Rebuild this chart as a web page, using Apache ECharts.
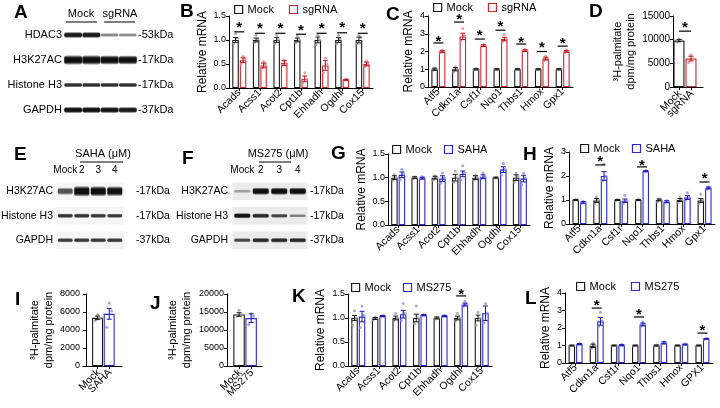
<!DOCTYPE html>
<html><head><meta charset="utf-8">
<script src="https://cdn.jsdelivr.net/npm/echarts@6/dist/echarts.min.js"></script>
<style>html,body{margin:0;padding:0;background:#fff}#c{width:720px;height:408px}</style>
</head><body><div id="c"></div>
<script>
// ================= DATA =================
// Panel A blot
const blotAGroups = ['Mock', 'sgRNA'];
const blotARows = ['HDAC3', 'H3K27AC', 'Histone H3', 'GAPDH'];
const blotAKda = ['-53kDa', '-17kDa', '-17kDa', '-37kDa'];
const blotASignal = [[0.85,0.85,0.35,0.32],[1,1,0.95,0.92],[0.72,0.72,0.72,0.72],[0.9,0.9,0.88,0.85]];
// Panel B
const catsB = ['Acads','Acss1','Acot2','Cpt1b','Ehhadh','Ogdhl','Cox15'];
const mockB = [1.00,1.00,1.00,1.00,1.00,1.00,1.00];
const mockBErr = [0.05,0.04,0.05,0.04,0.06,0.05,0.06];
const mockBDots = [[0.92,1.04,1.13],[0.95,1.02,1.10],[0.93,1.00,1.10],[0.95,1.00,1.08],[0.90,1.00,1.10],[0.92,1.02,1.10],[0.92,1.05,1.10]];
const sgB = [0.58,0.47,0.52,0.19,0.47,0.17,0.50];
const sgBErr = [0.05,0.05,0.05,0.06,0.10,0.01,0.04];
const sgBDots = [[0.50,0.60,0.66],[0.42,0.50,0.55],[0.48,0.52,0.58],[0.12,0.18,0.32],[0.32,0.50,0.62],[0.16,0.17,0.18],[0.45,0.50,0.56]];
const starB = [1.33,1.31,1.31,1.27,1.31,1.33,1.31];
const sigB = [1.17,1.14,1.14,1.12,1.14,1.15,1.14];
// Panel C
const catsC = ['Atf5','Cdkn1a','Csf1r','Nqo1','Thbs1','Hmox','Gpx1'];
const mockC = [1,1,1,1,1,1,1];
const mockCErr = [0.06,0.09,0.03,0.03,0.03,0.03,0.03];
const mockCDots = [[0.93,1.0,1.06],[0.86,1.0,1.12],[0.97,1.0,1.03],[0.98,1.0,1.02],[0.98,1.0,1.02],[0.98,1.0,1.02],[0.97,1.0,1.03]];
const sgC = [2.00,2.85,2.33,2.70,2.05,1.60,2.00];
const sgCErr = [0.05,0.18,0.05,0.10,0.05,0.08,0.05];
const sgCDots = [[1.95,2.0,2.08],[2.6,2.9,3.3],[2.28,2.33,2.4],[2.55,2.7,2.95],[2.0,2.05,2.12],[1.5,1.6,1.75],[1.95,2.0,2.1]];
const starC = [2.76,4.00,3.10,3.60,2.70,2.42,2.65];
const sigC = [2.48,3.66,2.70,3.20,2.42,2.00,2.30];
// Panel D
const catsD = ['Mock','sgRNA'];
const valsD = [9800, 6000];
const errD = [250, 500];
const dotsD = [[9500,9900,10100],[5200,5900,6800]];
const starD = 13300, sigD = 11800;
// Panel E / F blots
const blotELanes = ['Mock','2','3','4'];
const blotERows = ['H3K27AC','Histone H3','GAPDH'];
const blotEKda = ['-17kDa','-17kDa','-37kDa'];
const blotESignal = [[0.55,1,0.95,0.9],[0.7,0.7,0.68,0.66],[0.66,0.68,0.68,0.68]];
const blotFLanes = ['Mock','2','3','4'];
const blotFRows = ['H3K27AC','Histone H3','GAPDH'];
const blotFKda = ['-17kDa','-17kDa','-37kDa'];
const blotFSignal = [[0.2,0.95,0.95,0.95],[0.9,0.75,0.6,0.35],[0.6,0.75,0.75,0.75]];
// Panel G
const catsG = ['Acads','Acss1','Acot2','Cpt1b','Ehhadh','Ogdhl','Cox15'];
const mockG = [1,1,1,1,1,1,1];
const mockGErr = [0.04,0.02,0.03,0.07,0.04,0.01,0.06];
const mockGDots = [[0.95,1.0,1.06],[0.98,1.0,1.02],[0.95,1.0,1.04],[0.9,1.0,1.14],[0.95,1.0,1.05],[0.99,1.0,1.01],[0.9,1.02,1.1]];
const sahaG = [1.06,0.99,0.98,1.08,1.02,1.17,0.98];
const sahaGErr = [0.06,0.02,0.06,0.06,0.04,0.06,0.07];
const sahaGDots = [[0.95,1.08,1.18],[0.97,1.0,1.02],[0.88,1.0,1.1],[0.95,1.1,1.25],[0.98,1.02,1.1],[1.05,1.18,1.3],[0.85,1.0,1.1]];
// Panel H
const catsH = ['Atf5','Cdkn1a','Csf1r','Nqo1','Thbs1','Hmox','Gpx1'];
const mockH = [1.00,0.98,1.00,1.00,1.00,1.00,0.98];
const mockHErr = [0.02,0.08,0.02,0.02,0.04,0.06,0.08];
const mockHDots = [[0.98,1.0,1.02],[0.85,1.0,1.12],[0.97,1.0,1.02],[0.98,1.0,1.02],[0.92,1.0,1.05],[0.9,1.0,1.1],[0.85,1.0,1.25]];
const sahaH = [0.90,2.00,0.97,2.20,0.93,1.10,1.50];
const sahaHErr = [0.03,0.18,0.07,0.02,0.04,0.08,0.04];
const sahaHDots = [[0.85,0.9,0.95],[1.8,2.0,2.5],[0.85,0.97,1.2],[2.18,2.2,2.23],[0.88,0.93,0.98],[1.0,1.1,1.3],[1.45,1.5,1.55]];
const starH = [null,2.75,null,2.58,null,null,2.04];
const sigH = [null,2.46,null,2.38,null,null,1.75];
// Panel I
const catsI = ['Mock','SAHA'];
const valsI = [5350, 5800];
const errI = [200, 600];
const dotsI = [[5050,5300,5700],[4300,6100,7000]];
// Panel J
const catsJ = ['Mock','MS275'];
const valsJ = [14300, 13300];
const errJ = [500, 1200];
const dotsJ = [[13800,14300,15500],[11500,13800,14500]];
// Panel K
const catsK = ['Acads','Acss1','Acot2','Cpt1b','Ehhadh','Ogdhl','Cox15'];
const mockK = [1.00,0.99,1.00,1.00,1.00,1.00,1.00];
const mockKErr = [0.05,0.02,0.04,0.08,0.02,0.04,0.06];
const mockKDots = [[0.85,1.0,1.15],[0.97,1.0,1.02],[0.95,1.0,1.1],[0.88,1.0,1.25],[0.98,1.0,1.02],[0.95,1.0,1.1],[0.85,1.0,1.12]];
const msK = [1.03,1.04,1.08,1.06,1.04,1.28,1.10];
const msKErr = [0.11,0.01,0.08,0.01,0.01,0.03,0.15];
const msKDots = [[0.8,1.05,1.25],[1.03,1.04,1.05],[0.95,1.1,1.3],[1.05,1.06,1.07],[1.03,1.04,1.05],[1.24,1.28,1.35],[0.9,1.1,1.3]];
const starK = [null,null,null,null,null,1.56,null];
const sigK = [null,null,null,null,null,1.46,null];
// Panel L
const catsL = ['Atf5','Cdkn1a','Csf1r','Nqo1','Thbs1','Hmox','GPX1'];
const mockL = [1.00,0.98,1.00,1.00,1.00,1.00,1.00];
const mockLErr = [0.02,0.10,0.02,0.02,0.03,0.02,0.02];
const mockLDots = [[0.98,1.0,1.02],[0.85,1.0,1.15],[0.98,1.0,1.02],[0.98,1.0,1.02],[0.97,1.0,1.03],[0.98,1.0,1.02],[0.98,1.0,1.02]];
const msL = [1.08,2.38,1.02,2.20,1.15,1.06,1.38];
const msLErr = [0.03,0.22,0.03,0.08,0.06,0.02,0.02];
const msLDots = [[1.05,1.08,1.12],[2.1,2.4,2.9],[0.98,1.02,1.06],[2.1,2.2,2.35],[1.1,1.15,1.22],[1.04,1.06,1.1],[1.35,1.38,1.4]];
const starL = [null,3.49,null,2.97,null,null,2.06];
const sigL = [null,3.14,null,2.63,null,null,1.71];

// ================= STYLE / BUILD =================
const FONT = '"Liberation Sans", Arial, Helvetica, sans-serif';
const BLACK = '#1a1a1a';
const RED = '#d3272e', RED_ERR = '#b5121b', RED_DOT = '#f0878c';
const BLUE = '#2a2ad8', BLUE_ERR = '#1616b0', BLUE_DOT = '#8c8cf0';
const GRAY_DOT = '#9a9a9a';
const JIT = [-1.8, 1.8, 0, -0.9, 0.9];

const grid = [], xAxis = [], yAxis = [], series = [], legend = [], graphic = [];

function baseY(gi, o) {
  const dec = o.ydec || 0;
  return {gridIndex: gi, type: 'value', min: 0, max: o.ymax, interval: o.yint,
    axisLine: {show: true, lineStyle: {color: '#000', width: 1}},
    axisTick: {show: true, length: 3, lineStyle: {color: '#000'}},
    splitLine: {show: false},
    axisLabel: {fontSize: o.yfs || 9, color: '#000', fontFamily: FONT, margin: 3, formatter: v => Number(v).toFixed(dec)},
    name: o.yname, nameLocation: 'middle', nameRotate: 90, nameGap: o.ngap,
    nameTextStyle: {fontSize: o.nfs || 12, color: '#000', fontFamily: FONT, lineHeight: o.nlh || 14}};
}

function errSeries(xi, yi, data, off, colors) {
  return {type: 'custom', xAxisIndex: xi, yAxisIndex: yi, data: data, z: 5, silent: true,
    renderItem: (p, api) => {
      const x0 = api.value(0), m = api.value(1), e = api.value(2), ci = api.value(3);
      const a = api.coord([x0, m + e]), b = api.coord([x0, m - e]);
      const x = a[0] + off, cw = 2.5, st = {stroke: colors[ci], lineWidth: 1};
      return {type: 'group', children: [
        {type: 'line', shape: {x1: x, y1: a[1], x2: x, y2: b[1]}, style: st},
        {type: 'line', shape: {x1: x - cw, y1: a[1], x2: x + cw, y2: a[1]}, style: st},
        {type: 'line', shape: {x1: x - cw, y1: b[1], x2: x + cw, y2: b[1]}, style: st}]};
    }};
}
function dotSeries(xi, yi, data, off, colors, spread) {
  return {type: 'custom', xAxisIndex: xi, yAxisIndex: yi, data: data, z: 4, silent: true,
    renderItem: (p, api) => {
      const c = api.coord([api.value(0), api.value(1)]);
      return {type: 'circle', shape: {cx: c[0] + off + JIT[api.value(2)] * spread, cy: c[1], r: 1.5},
        style: {fill: colors[api.value(3)], opacity: 0.8}};
    }};
}
function starSeries(xi, yi, data, half) {
  return {type: 'custom', xAxisIndex: xi, yAxisIndex: yi, data: data, z: 6, silent: true,
    renderItem: (p, api) => {
      const s = api.coord([api.value(0), api.value(1)]), l = api.coord([api.value(0), api.value(2)]);
      return {type: 'group', children: [
        {type: 'text', style: {text: '*', x: s[0], y: s[1] + 3.5, align: 'center', verticalAlign: 'middle',
          fontSize: 15, fontWeight: 'bold', fontFamily: FONT, fill: '#000'}},
        {type: 'line', shape: {x1: l[0] - half, y1: l[1], x2: l[0] + half, y2: l[1]}, style: {stroke: '#000', lineWidth: 1.2}}]};
    }};
}

function barPanel(o) {
  const gi = grid.length, xi = xAxis.length, yi = yAxis.length;
  grid.push({left: o.l, top: o.t, width: o.w, height: o.h, containLabel: false, outerBoundsMode: 'none'});
  xAxis.push({gridIndex: gi, type: 'category', data: o.cats,
    axisLine: {show: true, lineStyle: {color: '#000', width: 1}},
    axisTick: {show: true, alignWithLabel: true, length: 3, lineStyle: {color: '#000'}},
    axisLabel: {interval: 0, rotate: 45, fontSize: 10.5, color: '#000', fontFamily: FONT, margin: 3},
    splitLine: {show: false}});
  yAxis.push(baseY(gi, o));
  const bw = 6.5, gp = 1, n = o.groups.length;
  o.groups.forEach((g, k) => {
    const off = -(n * bw + (n - 1) * gp) / 2 + bw / 2 + k * (bw + gp);
    series.push({type: 'bar', name: g.name, xAxisIndex: xi, yAxisIndex: yi, data: g.vals,
      barWidth: bw, barGap: (gp / bw * 100) + '%', silent: true, z: 2,
      itemStyle: {color: '#fff', borderColor: g.color, borderWidth: 1.1}});
    const dd = [];
    g.dots.forEach((arr, i) => arr.forEach((v, j) => dd.push([i, v, j, 0])));
    series.push(dotSeries(xi, yi, dd, off, [g.dot], 1));
    series.push(errSeries(xi, yi, g.vals.map((v, i) => [i, v, g.errs[i], 0]), off, [g.err]));
  });
  if (o.stars) {
    const sd = [];
    o.stars.forEach((s, i) => { if (s != null) sd.push([i, s, o.sig[i]]); });
    series.push(starSeries(xi, yi, sd, 5));
  }
  legend.push({left: o.lg[0], top: o.lg[1], itemGap: o.lg[2], itemWidth: 8, itemHeight: 8, icon: 'rect',
    selectedMode: false, padding: 0, textStyle: {fontSize: 11, color: '#000', fontFamily: FONT},
    data: o.groups.map(g => ({name: g.name, itemStyle: {color: '#fff', borderColor: g.color, borderWidth: 1.2}}))});
}

function pairPanel(o) {
  const gi = grid.length, xi = xAxis.length, yi = yAxis.length;
  grid.push({left: o.l, top: o.t, width: o.w, height: o.h, containLabel: false, outerBoundsMode: 'none'});
  xAxis.push({gridIndex: gi, type: 'value', min: o.xmin, max: o.xmax,
    axisLine: {show: true, lineStyle: {color: '#000', width: 1}},
    axisTick: {show: true, customValues: [1, 2], length: 3, lineStyle: {color: '#000'}},
    axisLabel: {show: false}, splitLine: {show: false}});
  yAxis.push(baseY(gi, o));
  series.push({type: 'bar', xAxisIndex: xi, yAxisIndex: yi, barWidth: o.bw, silent: true, z: 2,
    itemStyle: {color: '#fff', borderWidth: 1.1},
    data: o.vals.map((v, i) => ({value: [i + 1, v], itemStyle: {borderColor: o.colors[i]}}))});
  const dd = [];
  o.dots.forEach((arr, i) => arr.forEach((v, j) => dd.push([i + 1, v, j, i])));
  series.push(dotSeries(xi, yi, dd, 0, o.dotc, 1.3));
  series.push(errSeries(xi, yi, o.vals.map((v, i) => [i + 1, v, o.errs[i], i]), 0, o.errc));
  // category labels under the ticks (rotated 45°)
  series.push({type: 'custom', xAxisIndex: xi, yAxisIndex: yi, data: o.cats.map((c, i) => [i + 1, 0]), z: 6, silent: true,
    renderItem: (p, api) => {
      const c = api.coord([api.value(0), 0]);
      return {type: 'text', x: c[0] + 1, y: c[1] + 5, rotation: Math.PI / 4,
        style: {text: o.cats[p.dataIndex], align: 'right', verticalAlign: 'middle', fontSize: 10.5, fontFamily: FONT, fill: '#000'}};
    }});
  if (o.star != null) {
    series.push({type: 'custom', xAxisIndex: xi, yAxisIndex: yi, data: [[1.5, o.star, o.sig]], z: 6, silent: true,
      renderItem: (p, api) => {
        const s = api.coord([1.5, api.value(1)]), l = api.coord([1.5, api.value(2)]);
        const a = api.coord([1, api.value(2)]), b = api.coord([2, api.value(2)]);
        return {type: 'group', children: [
          {type: 'text', style: {text: '*', x: s[0], y: s[1] + 3.5, align: 'center', verticalAlign: 'middle',
            fontSize: 15, fontWeight: 'bold', fontFamily: FONT, fill: '#000'}},
          {type: 'line', shape: {x1: a[0], y1: l[1], x2: b[0], y2: l[1]}, style: {stroke: '#000', lineWidth: 1.2}}]};
      }});
  }
}

function blotPanel(o) {
  const gi = grid.length, xi = xAxis.length, yi = yAxis.length;
  grid.push({left: o.l, top: o.t, width: o.w, height: o.h, containLabel: false, outerBoundsMode: 'none'});
  xAxis.push({gridIndex: gi, type: 'category', data: o.lanes, position: 'top',
    axisLine: {show: false}, axisTick: {show: false}, splitLine: {show: false},
    axisLabel: {show: !!o.showLanes, interval: 0, fontSize: 10, color: '#000', fontFamily: FONT, margin: o.laneMargin || 2}});
  const yl = {fontSize: o.fs || 11, color: '#000', fontFamily: FONT, interval: 0};
  yAxis.push({gridIndex: gi, type: 'category', data: o.rows, inverse: true, axisLine: {show: false},
    axisTick: {show: false}, splitLine: {show: false}, axisLabel: Object.assign({margin: o.lm}, yl)});
  yAxis.push({gridIndex: gi, type: 'category', data: o.kda, inverse: true, position: 'right', axisLine: {show: false},
    axisTick: {show: false}, splitLine: {show: false}, axisLabel: Object.assign({margin: o.rm}, yl)});
  const data = [];
  o.signal.forEach((row, r) => row.forEach((s, l) => data.push([l, r, s])));
  if (o.bg) {
    series.push({type: 'custom', xAxisIndex: xi, yAxisIndex: yi, data: data, z: 1, silent: true,
      renderItem: (p, api) => {
        const c = api.coord([api.value(0), api.value(1)]), sz = api.size([1, 1]);
        return {type: 'rect', shape: {x: c[0] - sz[0] / 2 - 0.5, y: c[1] - sz[1] * 0.36, width: sz[0] + 1, height: sz[1] * 0.72},
          style: {fill: o.bg}};
      }});
  }
  series.push({type: 'custom', xAxisIndex: xi, yAxisIndex: yi, data: data, z: 2, silent: true,
    renderItem: (p, api) => {
      const l = api.value(0), r = api.value(1), s = api.value(2);
      const c = api.coord([l, r]), sz = api.size([1, 1]);
      const w = sz[0] * o.fill, h = o.thick[r] * (0.35 + 0.65 * s);
      const a = Math.min(1, 0.12 + 0.95 * s);
      const col = 'rgba(15,15,15,' + a.toFixed(3) + ')';
      return {type: 'rect', shape: {x: c[0] - w / 2, y: c[1] - h / 2, width: w, height: h, r: Math.min(h / 2, 3)},
        style: {fill: new echarts.graphic.LinearGradient(0, 0, 0, 1, [
          {offset: 0, color: 'rgba(15,15,15,0)'}, {offset: 0.3, color: col},
          {offset: 0.7, color: col}, {offset: 1, color: 'rgba(15,15,15,0)'}]),
          shadowBlur: 1.5, shadowColor: 'rgba(0,0,0,' + (a * 0.4).toFixed(3) + ')'}};
    }});
}

// ---- build panels ----
blotPanel({l: 64, t: 22.5, w: 73, h: 100, lanes: ['1', '2', '3', '4'], rows: blotARows, kda: blotAKda,
  signal: blotASignal, lm: 2, rm: 1, thick: [7, 10, 6, 7], fill: 0.97});
blotPanel({l: 57, t: 179, w: 66, h: 73.5, lanes: blotELanes, showLanes: true, laneMargin: 4, rows: blotERows, kda: blotEKda,
  signal: blotESignal, lm: 4, rm: 13, thick: [11, 6, 6], fill: 0.9, bg: '#f5f5f5', fs: 10.5});
blotPanel({l: 233, t: 179, w: 74, h: 73.5, lanes: blotFLanes, showLanes: true, laneMargin: 4, rows: blotFRows, kda: blotFKda,
  signal: blotFSignal, lm: 5, rm: 3, thick: [8, 6, 6], fill: 0.86, bg: '#ebebeb', fs: 10.5});

barPanel({l: 229, t: 16, w: 144, h: 72, cats: catsB, ymax: 1.5, yint: 0.5, ydec: 1, yname: 'Relative mRNA', ngap: 19,
  groups: [{name: 'Mock', vals: mockB, errs: mockBErr, dots: mockBDots, color: BLACK, err: BLACK, dot: GRAY_DOT},
           {name: 'sgRNA', vals: sgB, errs: sgBErr, dots: sgBDots, color: RED, err: RED_ERR, dot: RED_DOT}],
  stars: starB, sig: sigB, lg: [234, 4, 15]});
barPanel({l: 428, t: 16, w: 145, h: 71, cats: catsC, ymax: 4, yint: 1, yname: 'Relative mRNA', ngap: 11,
  groups: [{name: 'Mock', vals: mockC, errs: mockCErr, dots: mockCDots, color: BLACK, err: BLACK, dot: GRAY_DOT},
           {name: 'sgRNA', vals: sgC, errs: sgCErr, dots: sgCDots, color: RED, err: RED_ERR, dot: RED_DOT}],
  stars: starC, sig: sigC, lg: [433, 2, 15]});
pairPanel({l: 673, t: 16, w: 30, h: 71, cats: catsD, vals: valsD, errs: errD, dots: dotsD, xmin: 0.5, xmax: 3, bw: 11,
  colors: [BLACK, RED], errc: [BLACK, RED_ERR], dotc: [GRAY_DOT, RED_DOT], ymax: 15000, yint: 5000, yfs: 10,
  yname: '³H-palmitate\ndpm/mg protein', ngap: 36, nfs: 11, nlh: 13, star: starD, sig: sigD});
barPanel({l: 388, t: 154, w: 142, h: 71, cats: catsG, ymax: 1.5, yint: 0.5, ydec: 1, yname: 'Relative mRNA', ngap: 19,
  groups: [{name: 'Mock', vals: mockG, errs: mockGErr, dots: mockGDots, color: BLACK, err: BLACK, dot: GRAY_DOT},
           {name: 'SAHA', vals: sahaG, errs: sahaGErr, dots: sahaGDots, color: BLUE, err: BLUE_ERR, dot: BLUE_DOT}],
  lg: [392, 144, 12]});
barPanel({l: 569, t: 152, w: 146, h: 72, cats: catsH, ymax: 3, yint: 1, yname: 'Relative mRNA', ngap: 10,
  groups: [{name: 'Mock', vals: mockH, errs: mockHErr, dots: mockHDots, color: BLACK, err: BLACK, dot: GRAY_DOT},
           {name: 'SAHA', vals: sahaH, errs: sahaHErr, dots: sahaHDots, color: BLUE, err: BLUE_ERR, dot: BLUE_DOT}],
  stars: starH, sig: sigH, lg: [580, 143, 12]});
pairPanel({l: 83, t: 294, w: 39, h: 72, cats: catsI, vals: valsI, errs: errI, dots: dotsI, xmin: -0.25, xmax: 3.1, bw: 11,
  colors: [BLACK, BLUE], errc: [BLACK, BLUE_ERR], dotc: [GRAY_DOT, BLUE_DOT], ymax: 8000, yint: 2000,
  yname: '³H-palmitate\ndpm/mg protein', ngap: 26, nfs: 11, nlh: 14});
pairPanel({l: 227, t: 294, w: 35, h: 72, cats: catsJ, vals: valsJ, errs: errJ, dots: dotsJ, xmin: 0, xmax: 2.9, bw: 11.5,
  colors: [BLACK, BLUE], errc: [BLACK, BLUE_ERR], dotc: [GRAY_DOT, BLUE_DOT], ymax: 20000, yint: 5000,
  yname: '³H-palmitate\ndpm/mg protein', ngap: 33, nfs: 11, nlh: 14});
barPanel({l: 348, t: 294, w: 144, h: 72, cats: catsK, ymax: 1.5, yint: 0.5, ydec: 1, yname: 'Relative mRNA', ngap: 20,
  groups: [{name: 'Mock', vals: mockK, errs: mockKErr, dots: mockKDots, color: BLACK, err: BLACK, dot: GRAY_DOT},
           {name: 'MS275', vals: msK, errs: msKErr, dots: msKDots, color: BLUE, err: BLUE_ERR, dot: BLUE_DOT}],
  stars: starK, sig: sigK, lg: [351, 282, 12]});
barPanel({l: 565, t: 293, w: 148, h: 70, cats: catsL, ymax: 4, yint: 1, yname: 'Relative mRNA', ngap: 8,
  groups: [{name: 'Mock', vals: mockL, errs: mockLErr, dots: mockLDots, color: BLACK, err: BLACK, dot: GRAY_DOT},
           {name: 'MS275', vals: msL, errs: msLErr, dots: msLDots, color: BLUE, err: BLUE_ERR, dot: BLUE_DOT}],
  stars: starL, sig: sigL, lg: [576, 281, 15]});

// ---- panel letters and blot headers ----
const letters = [['A', 14, 3], ['B', 180, 2], ['C', 386, 5], ['D', 589, 2], ['E', 14, 145], ['F', 182, 149],
  ['G', 331, 144], ['H', 523, 145], ['I', 15, 290], ['J', 150, 294], ['K', 292, 287], ['L', 525, 289]];
letters.forEach(([t, x, y]) => graphic.push({type: 'text', left: x, top: y, z: 10,
  style: {text: t, fontSize: 19, fontWeight: 'bold', fontFamily: FONT, fill: '#000'}}));
function hdr(text, cx, cy, x1, x2, ly) {
  graphic.push({type: 'text', x: cx, y: cy, z: 10, style: {text: text, fontSize: 11, fontFamily: FONT, fill: '#000', align: 'center', verticalAlign: 'middle'}});
  graphic.push({type: 'line', z: 10, shape: {x1: x1, y1: ly, x2: x2, y2: ly}, style: {stroke: '#000', lineWidth: 1}});
}
hdr(blotAGroups[0], 81, 14, 66, 97, 22);
hdr(blotAGroups[1], 120, 14, 104, 135, 22);
hdr('SAHA (μM)', 103, 154, 80, 123, 162);
hdr('MS275 (μM)', 278, 154, 259, 291, 162);

const chart = echarts.init(document.getElementById('c'), null, {renderer: 'canvas'});
chart.setOption({animation: false, backgroundColor: '#fff', textStyle: {fontFamily: FONT, color: '#000'},
  grid: grid, xAxis: xAxis, yAxis: yAxis, series: series, legend: legend, graphic: graphic});
</script></body></html>
